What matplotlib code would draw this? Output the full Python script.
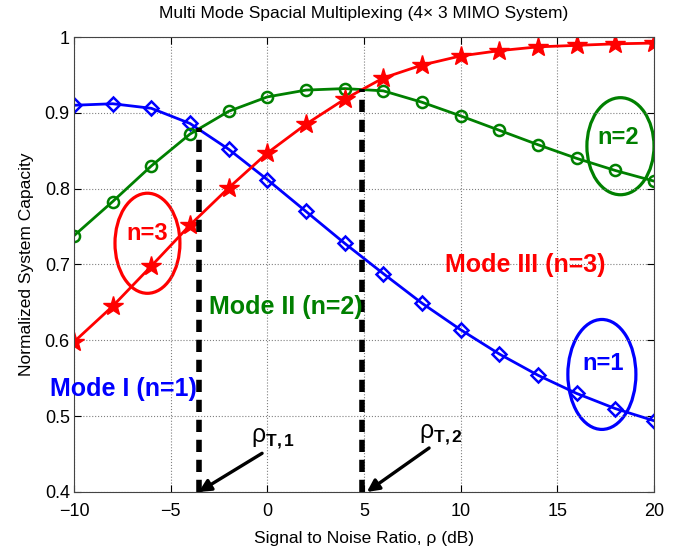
import matplotlib
matplotlib.use('Agg')
import matplotlib.pyplot as plt
from matplotlib.patches import Ellipse
import numpy as np

plt.rcParams['font.family'] = ['Liberation Sans', 'DejaVu Sans']
plt.rcParams['mathtext.fontset'] = 'custom'
plt.rcParams['mathtext.rm'] = 'Liberation Sans'
plt.rcParams['mathtext.bf'] = 'Liberation Sans:bold'
plt.rcParams['mathtext.it'] = 'Liberation Sans:italic'

#%%
'''capacity per mode vs SNR'''
snr = [-10, -8, -6, -4, -2, 0, 2, 4, 6, 8, 10, 12, 14, 16, 18, 20]
mode1 = [0.910, 0.912, 0.906, 0.886, 0.852, 0.812, 0.770, 0.728, 0.688, 0.649,
         0.614, 0.582, 0.554, 0.530, 0.510, 0.494]
mode2 = [0.738, 0.783, 0.830, 0.872, 0.902, 0.921, 0.930, 0.932, 0.929, 0.914,
         0.896, 0.877, 0.858, 0.840, 0.824, 0.810]
mode3 = [0.598, 0.645, 0.698, 0.752, 0.801, 0.847, 0.885, 0.918, 0.946, 0.963,
         0.975, 0.982, 0.987, 0.989, 0.991, 0.992]

# switching thresholds (dB) and the capacity where the curves cross
thresholds = [-3.55, 4.9]
cross_cap = [0.880, 0.932]

fig = plt.figure(figsize=(6.79, 5.50), dpi=100)
ax = fig.add_axes([0.109, 0.1055, 0.854, 0.8272])

ax.plot(snr, mode1, color='blue', lw=2, marker='D', ms=7.5, mfc='none', mew=1.8)
ax.plot(snr, mode2, color='green', lw=2, marker='o', ms=8, mfc='none', mew=1.8)
ax.plot(snr, mode3, color='red', lw=2, marker='*', ms=15, mfc='red', mec='red')

for t, c in zip(thresholds, cross_cap):
    ax.plot([t, t], [0.4, c], color='black', lw=4, ls=(0, (2.2, 1.4)))

# circles round the labels
ax.add_patch(Ellipse((-6.2, 0.728), 3.36, 0.132, fill=False, ec='red', lw=2.3))
ax.add_patch(Ellipse((18.27, 0.856), 3.47, 0.128, fill=False, ec='green', lw=2.3))
ax.add_patch(Ellipse((17.31, 0.555), 3.52, 0.145, fill=False, ec='blue', lw=2.3))
ax.text(-6.2, 0.741, 'n=3', color='red', fontsize=17, fontweight='bold', ha='center', va='center')
ax.text(18.14, 0.868, 'n=2', color='green', fontsize=17, fontweight='bold', ha='center', va='center')
ax.text(17.37, 0.570, 'n=1', color='blue', fontsize=17, fontweight='bold', ha='center', va='center')

ax.text(-11.24, 0.536, 'Mode I (n=1)', color='blue', fontsize=18, fontweight='bold', va='center', clip_on=False)
ax.text(-3.0, 0.644, 'Mode II (n=2)', color='green', fontsize=18, fontweight='bold', va='center')
ax.text(9.2, 0.699, 'Mode III (n=3)', color='red', fontsize=18, fontweight='bold', va='center')

# threshold labels and arrows
ax.text(-0.85, 0.470, r'$\mathrm{\rho}_{\mathbf{T,1}}$', fontsize=18, va='center')
ax.text(7.85, 0.475, r'$\mathrm{\rho}_{\mathbf{T,2}}$', fontsize=18, va='center')
ax.annotate('', xy=(thresholds[0], 0.4), xytext=(-0.27, 0.451),
            arrowprops=dict(arrowstyle='-|>', color='black', lw=2.4,
                            shrinkA=0, shrinkB=0, mutation_scale=18))
ax.annotate('', xy=(5.15, 0.4), xytext=(8.37, 0.458),
            arrowprops=dict(arrowstyle='-|>', color='black', lw=2.4,
                            shrinkA=0, shrinkB=0, mutation_scale=18))

ax.set_xlim(-10, 20)
ax.set_ylim(0.4, 1)
ax.set_xticks([-10, -5, 0, 5, 10, 15, 20])
ax.set_yticks([0.4, 0.5, 0.6, 0.7, 0.8, 0.9, 1.0])
ax.set_yticklabels(['0.4', '0.5', '0.6', '0.7', '0.8', '0.9', '1'])
ax.tick_params(direction='in', labelsize=13, length=5, top=True, right=True)
ax.tick_params(axis='x', pad=8)
ax.tick_params(axis='y', pad=3)
ax.grid(True, ls=':', color='gray', lw=0.8)
for s in ax.spines.values():
    s.set_color('#444444')

ax.set_title('Multi Mode Spacial Multiplexing (4\u00d7 3 MIMO System)', fontsize=12.5, pad=14)
ax.set_xlabel('Signal to Noise Ratio, \u03c1 (dB)', fontsize=12.5, labelpad=8)
ax.set_ylabel('Normalized System Capacity', fontsize=12.5, labelpad=8)

plt.savefig('out.png', dpi=100)
